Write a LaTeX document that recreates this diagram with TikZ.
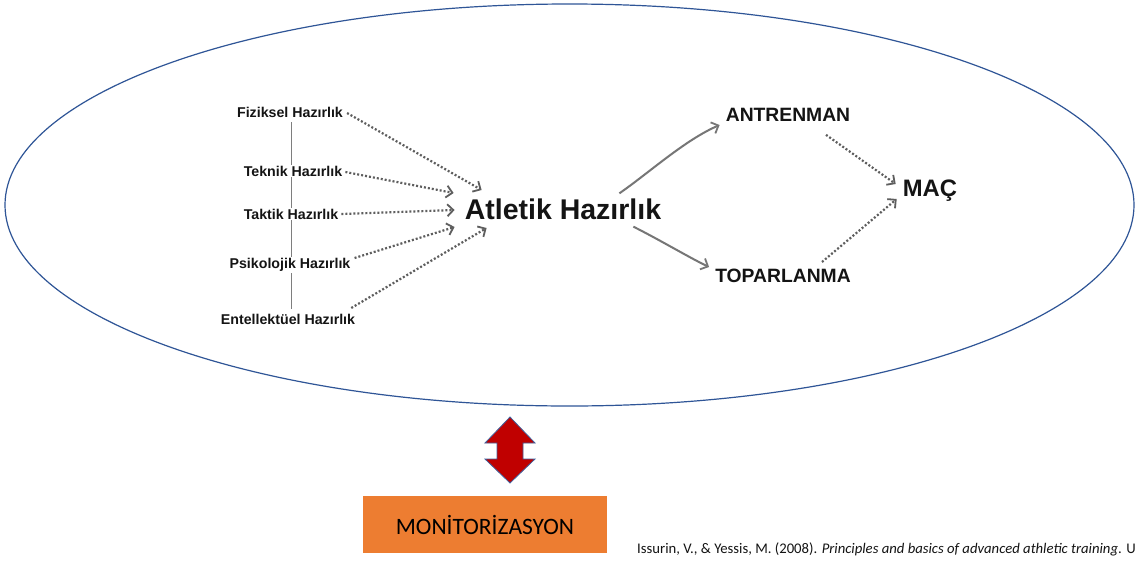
\documentclass[tikz,border=0pt]{standalone}
\usepackage{fontspec}
\setmainfont{Liberation Sans}
\newfontfamily\calibrifont{Carlito}
\usetikzlibrary{arrows.meta,calc}
\definecolor{ringblue}{HTML}{2F5597}
\definecolor{linkgray}{HTML}{5E5E5E}
\definecolor{inkblack}{HTML}{141414}
\definecolor{boxorange}{HTML}{ED7D31}
\definecolor{arrowred}{HTML}{C00000}
\definecolor{arrowedge}{HTML}{41609C}
\tikzset{
  lbl/.style={font=\bfseries\fontsize{14.2}{16}\selectfont, text=inkblack, inner sep=1pt, fill=white},
  bigl/.style={font=\bfseries\fontsize{28.5}{31}\selectfont, text=inkblack, inner sep=1pt},
  outl/.style={font=\bfseries\fontsize{19.3}{21}\selectfont, text=inkblack, inner sep=1pt},
  tipgray/.style={-{Straight Barb[length=6pt,width=12pt,line width=1.8pt]}},
  dotlink/.style={draw=linkgray, line width=2.2pt, dash pattern=on 2pt off 2pt, tipgray},
  solidlink/.style={draw=linkgray!85, line width=2pt, tipgray},
  spine/.style={draw=linkgray!80, line width=1pt},
}
\begin{document}
\begin{tikzpicture}[x=1pt,y=-1pt]
\useasboundingbox (0,0) rectangle (1135,560);
\fill[white] (0,0) rectangle (1135,560);

% outer ring
\draw[ringblue, line width=1.2pt] (569.5,205) ellipse [x radius=564.5, y radius=201];

% preparation components
\coordinate (spinetop) at (291,122);
\coordinate (spinebot) at (291,309);
\draw[spine] (spinetop) -- (spinebot);
\node[lbl] (fiz) at (290,112) {Fiziksel Hazırlık};
\node[lbl] (tek) at (293,171) {Teknik Hazırlık};
\node[lbl] (tak) at (291,214) {Taktik Hazırlık};
\node[lbl] (psi) at (290,265) {Psikolojik Hazırlık};
\node[lbl] (ent) at (288,319) {Entellektüel Hazırlık};

\node[bigl] (atl) at (563,209) {Atletik Hazırlık};
\node[outl] (ant) at (788,115) {ANTRENMAN};
\node[outl] (top) at (783,276) {TOPARLANMA};
\node[font=\bfseries\fontsize{23.8}{26}\selectfont, text=inkblack, inner sep=1pt] (mac) at (930,191) {MAÇ};

% links into athletic preparation
\draw[dotlink] ($(fiz.east)+(3,1)$) -- ($(atl.west)+(18,-19)$);
\draw[dotlink] ($(tek.east)+(2,1)$) -- ($(atl.west)+(-10,-16)$);
\draw[dotlink] ($(tak.east)+(2,0)$) -- ($(atl.west)+(-9,1)$);
\draw[dotlink] ($(psi.east)+(3,-7)$) -- ($(atl.west)+(-9,18)$);
\draw[dotlink] ($(ent.east)+(-5,-11)$) -- ($(atl.west)+(23,19)$);

% training and recovery branches
\draw[solidlink] ($(atl.north east)+(-43,-4)$) .. controls (650,172) and (685,140) .. ($(ant.west)+(-5,10)$);
\draw[solidlink] ($(atl.south east)+(-29,6)$) .. controls (660,240) and (690,258) .. ($(top.west)+(-5,-9)$);
\draw[dotlink] ($(ant.south)+(38,12)$) -- ($(mac.west)+(-6,-7)$);
\draw[dotlink] ($(top.north)+(39,-6)$) -- ($(mac.west)+(-5,8)$);

% monitoring
\node[fill=boxorange, minimum width=244pt, minimum height=57pt, inner sep=0pt,
      font=\calibrifont\fontsize{23.5}{26}\selectfont, text=black] (mon) at (485,524.5) {MONİTORİZASYON};
\draw[fill=arrowred, draw=arrowedge, line width=0.8pt, line join=miter]
  (510,417) -- (535,443) -- (523,443) -- (523,459) -- (535,459) -- (510,483)
  -- (485,459) -- (497,459) -- (497,443) -- (485,443) -- cycle;

\node[anchor=west, inner sep=0pt, font=\calibrifont\fontsize{14.7}{17}\selectfont, text=inkblack] (cite) at (637,549)
  {Issurin, V., \& Yessis, M. (2008). \textit{Principles and basics of advanced athletic training}. U};
\end{tikzpicture}
\end{document}
